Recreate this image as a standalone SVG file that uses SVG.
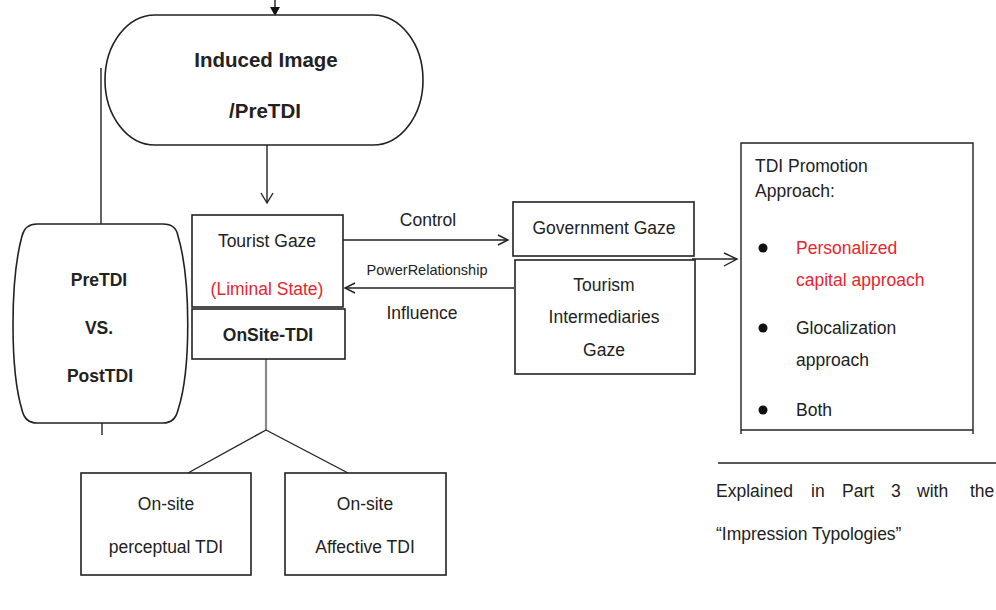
<svg xmlns="http://www.w3.org/2000/svg" width="996" height="610" viewBox="0 0 996 610">
  <defs>
    <style>
      .shape { fill: #ffffff; stroke: #222222; stroke-width: 1.6; }
      .line { fill: none; stroke: #222222; stroke-width: 1.4; }
      .grey { fill: none; stroke: #8a8a8a; stroke-width: 2.2; }
      text { font-family: "Liberation Sans", Arial, sans-serif; font-size: 17.5px; fill: #222222; }
      .c { text-anchor: middle; }
      .b { font-weight: bold; }
      .big { font-size: 20.5px; }
      .red { fill: #e3262f; }
      .small { font-size: 14.5px; }
    </style>
  </defs>

  <!-- connectors -->
  <g id="connectors">
    <!-- incoming arrow at the top of the induced image -->
    <line class="line" x1="275" y1="0" x2="275" y2="8"/>
    <polygon points="270,7 280,7 275,16" fill="#111111"/>
    <!-- left spine through the PreTDI vs PostTDI node -->
    <line class="line" x1="101" y1="68" x2="101" y2="224"/>
    <line class="line" x1="102" y1="423" x2="102" y2="435"/>
    <!-- induced image down to tourist gaze -->
    <line class="line" x1="267" y1="145" x2="267" y2="203"/>
    <polyline class="line" points="261,193 267,203 273,193"/>
    <!-- control -->
    <line class="line" x1="343" y1="240" x2="508" y2="240"/>
    <polyline class="line" points="498,235 508,240 498,245"/>
    <!-- influence -->
    <line class="line" x1="514" y1="288" x2="345" y2="288"/>
    <polyline class="line" points="355,283 345,288 355,293"/>
    <!-- gazes to promotion approach -->
    <line class="line" x1="692" y1="259" x2="737" y2="259"/>
    <polyline class="line" points="724,253 737,259 724,266"/>
    <!-- on-site branch -->
    <line class="grey" x1="266" y1="359" x2="266" y2="431"/>
    <line class="line" x1="266" y1="430" x2="188" y2="473"/>
    <line class="line" x1="266" y1="430" x2="348" y2="473"/>
    <text x="428" y="226" class="c">Control</text>
    <text x="427" y="275" class="c small">PowerRelationship</text>
    <text x="422" y="319" class="c">Influence</text>
  </g>

  <g id="induced-image">
    <rect class="shape" x="105" y="15" width="318" height="130" rx="50" ry="65"/>
    <text x="266" y="67" class="c b big">Induced Image</text>
    <text x="265" y="118" class="c b big">/PreTDI</text>
  </g>

  <g id="pre-vs-post">
    <path class="shape" d="M37,224 L163,224 Q176,224 178,236 C191,280 191,370 178,410 Q175,423 163,423 L37,423 Q25,423 22,410 C10,370 10,280 22,236 Q25,224 37,224 Z"/>
    <text x="99" y="286" class="c b">PreTDI</text>
    <text x="99" y="334" class="c b">VS.</text>
    <text x="100" y="382" class="c b">PostTDI</text>
  </g>

  <g id="tourist-gaze">
    <rect class="shape" x="192" y="215" width="151" height="92"/>
    <text x="267" y="247" class="c">Tourist Gaze</text>
    <text x="267" y="295" class="c red">(Liminal State)</text>
  </g>

  <g id="onsite-tdi">
    <rect class="shape" x="192" y="309" width="153" height="50"/>
    <text x="268" y="341" class="c b">OnSite-TDI</text>
  </g>

  <g id="government-gaze">
    <rect class="shape" x="513" y="202" width="181" height="54"/>
    <text x="604" y="234" class="c">Government Gaze</text>
  </g>

  <g id="intermediaries-gaze">
    <rect class="shape" x="515" y="260" width="180" height="114"/>
    <text x="604" y="291" class="c">Tourism</text>
    <text x="604" y="323" class="c">Intermediaries</text>
    <text x="604" y="356" class="c">Gaze</text>
  </g>

  <g id="promotion-approach">
    <path class="line" d="M741,434 L741,143 L973,143 L973,434" stroke-width="1.6"/>
    <line class="line" x1="741" y1="430" x2="973" y2="430" stroke-width="1.6"/>
    <text x="755" y="172">TDI Promotion</text>
    <text x="755" y="197">Approach:</text>
    <circle cx="763" cy="248" r="4.5" fill="#111111"/>
    <text x="796" y="254" class="red">Personalized</text>
    <text x="796" y="286" class="red">capital approach</text>
    <circle cx="763" cy="328" r="4.5" fill="#111111"/>
    <text x="796" y="334">Glocalization</text>
    <text x="796" y="366">approach</text>
    <circle cx="763" cy="410" r="4.5" fill="#111111"/>
    <text x="796" y="416">Both</text>
  </g>

  <g id="onsite-perceptual">
    <rect class="shape" x="81" y="473" width="170" height="102"/>
    <text x="166" y="510" class="c">On-site</text>
    <text x="166" y="553" class="c">perceptual TDI</text>
  </g>

  <g id="onsite-affective">
    <rect class="shape" x="285" y="473" width="161" height="102"/>
    <text x="365" y="510" class="c">On-site</text>
    <text x="365" y="553" class="c">Affective TDI</text>
  </g>

  <g id="note">
    <line class="line" x1="718" y1="463" x2="996" y2="463"/>
    <text y="497"><tspan x="716">Explained</tspan><tspan x="811">in</tspan><tspan x="842">Part</tspan><tspan x="891">3</tspan><tspan x="917">with</tspan><tspan x="970">the</tspan></text>
    <text x="716" y="540">“Impression Typologies”</text>
  </g>
</svg>
